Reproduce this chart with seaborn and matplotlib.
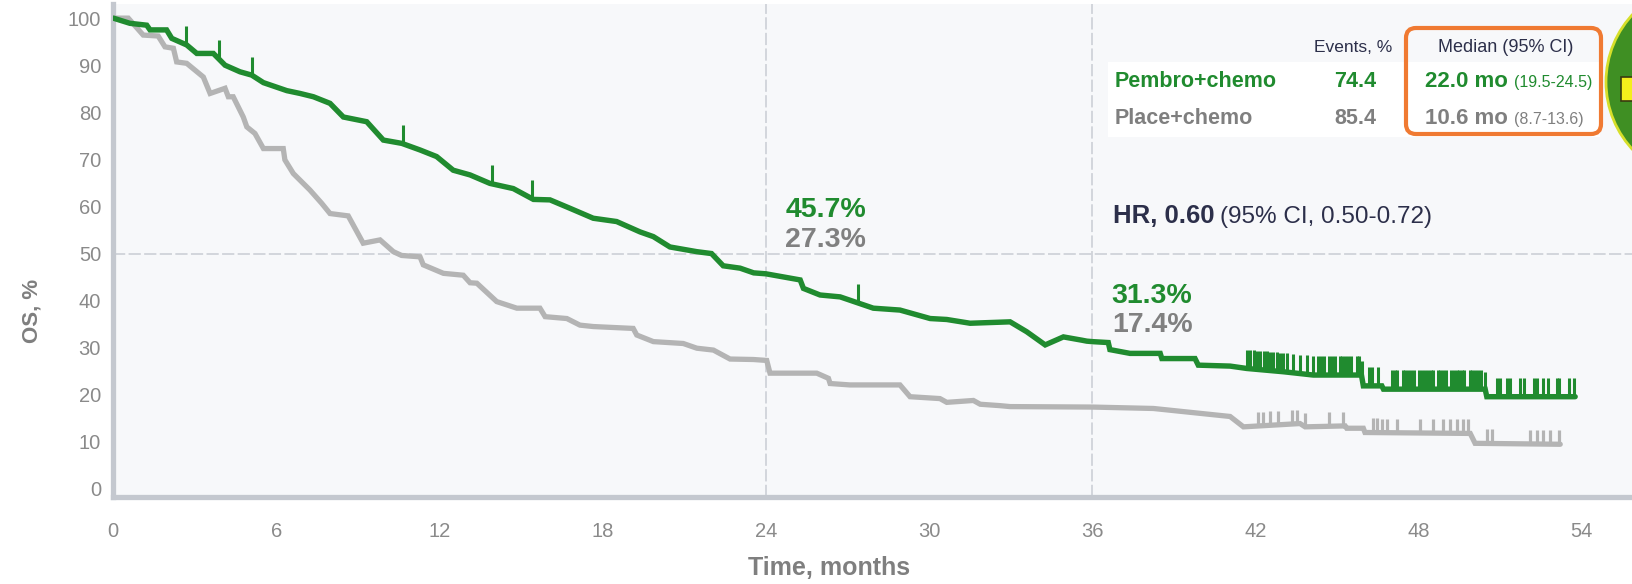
import numpy as np
import pandas as pd
import matplotlib
matplotlib.use("Agg")
import matplotlib.pyplot as plt
from matplotlib import patches
import seaborn as sns

# ---- Kaplan-Meier overall survival: time (months) and OS (%) per arm ----
pembro_time = [0, 0.61, 1.23, 1.35, 1.96, 2.15, 2.70, 3.07, 3.68, 4.11, 4.66, 5.09, 5.52,
               6.38, 6.87, 7.36, 7.97, 8.46, 9.32, 9.93, 10.61, 11.28, 11.89, 12.50, 13.12,
               13.85, 14.71, 15.45, 16.06, 16.80, 17.65, 18.51, 19.37, 19.86, 20.47, 21.46,
               22.00, 22.43, 23.05, 23.55, 24.00, 25.26, 25.38, 25.99, 26.73, 27.95, 28.93,
               30.04, 30.65, 31.51, 32.98, 33.59, 34.27, 34.94, 35.62, 35.80, 36.00, 36.59,
               36.65, 37.39, 38.50, 38.56, 39.78, 39.90, 41.07, 41.68, 43.03, 44.13, 45.90,
               45.97, 46.65, 46.71, 50.45, 50.51, 53.76]
pembro_os = [100, 98.9, 98.5, 97.5, 97.5, 95.7, 94.3, 92.5, 92.5, 90.0, 88.6, 87.9, 86.3,
             84.6, 84.0, 83.3, 81.9, 79.0, 78.0, 74.1, 73.4, 72.0, 70.6, 67.7, 66.7,
             64.9, 63.8, 61.5, 61.4, 59.6, 57.5, 56.8, 54.6, 53.6, 51.4, 50.4,
             50.0, 47.4, 46.9, 45.9, 45.7, 44.4, 42.6, 41.2, 40.8, 38.4, 38.0,
             36.2, 36.0, 35.2, 35.5, 33.4, 30.6, 32.3, 31.6, 31.4, 31.3, 31.1,
             29.6, 28.8, 28.8, 27.7, 27.7, 26.3, 26.1, 25.6, 24.9, 24.2, 24.2,
             21.9, 21.9, 21.2, 21.2, 19.6, 19.6]

placebo_time = [0, 0.55, 1.10, 1.65, 1.90, 2.21, 2.33, 2.70, 3.31, 3.56, 4.11, 4.23, 4.41,
                4.78, 4.91, 5.21, 5.52, 6.25, 6.31, 6.62, 7.23, 7.66, 7.97, 8.64, 9.19,
                9.81, 10.30, 10.60, 11.28, 11.40, 12.14, 12.87, 13.12, 13.37, 14.10, 14.84,
                15.69, 15.88, 16.68, 17.16, 17.65, 19.12, 19.25, 19.86, 20.96, 21.46, 22.07,
                22.68, 23.54, 24.03, 24.15, 25.87, 26.30, 26.36, 27.09, 28.93, 29.30, 30.40,
                30.65, 31.63, 31.88, 32.61, 32.98, 36.00, 37.51, 38.25, 41.07, 41.56, 43.64,
                43.83, 45.30, 45.36, 45.97, 46.03, 49.90, 50.08, 53.21]
placebo_os = [100, 100, 96.4, 96.2, 93.9, 93.6, 90.7, 90.4, 87.5, 84.0, 85.1, 83.3, 83.3,
              79.0, 76.9, 75.5, 72.3, 72.3, 69.9, 67.0, 63.5, 60.7, 58.5, 58.0, 52.2,
              52.9, 50.4, 49.6, 49.3, 47.6, 45.8, 45.4, 43.8, 43.7, 39.8, 38.4,
              38.4, 36.6, 36.2, 34.8, 34.5, 34.1, 32.7, 31.3, 30.9, 29.9, 29.5,
              27.6, 27.5, 27.3, 24.6, 24.6, 23.5, 22.4, 22.1, 22.1, 19.6, 19.2,
              18.4, 18.8, 18.0, 17.7, 17.5, 17.4, 17.2, 17.1, 15.4, 13.2, 13.9,
              13.2, 13.4, 12.9, 12.9, 12.0, 11.8, 9.7, 9.5]

# censoring times (months)
pembro_censor = [2.66, 3.89, 5.11, 10.64, 13.94, 15.41, 27.40,
                 41.70, 41.82, 41.94, 42.06, 42.18, 42.30, 42.42, 42.54, 42.66, 42.78, 42.90, 43.02,
                 43.15, 43.40, 43.64, 43.89, 44.13, 44.32,
                 44.42, 44.52, 44.72, 44.82, 44.92, 45.10, 45.20, 45.30, 45.40, 45.50, 45.72, 45.82, 45.93,
                 46.16, 46.28, 46.52,
                 47.02, 47.14, 47.22, 47.42, 47.52, 47.63, 47.74, 47.84, 48.02, 48.12, 48.23, 48.34,
                 48.44, 48.53, 48.70, 48.80, 48.90, 49.00, 49.20, 49.30, 49.40, 49.50, 49.60, 49.68,
                 49.88, 49.98, 50.08, 50.18, 50.28, 50.46,
                 50.88, 51.00, 51.25, 51.38, 51.74, 51.86, 52.23, 52.36, 52.59, 52.75, 53.09, 53.18,
                 53.55, 53.70]
placebo_censor = [42.11, 42.29, 42.54, 42.85, 43.34, 43.52, 43.83, 44.72, 45.24,
                  46.34, 46.47, 46.65, 46.83, 47.20, 48.06, 48.55, 48.91, 49.16, 49.41,
                  49.65, 49.83, 50.51, 50.69, 52.10, 52.35, 52.59, 52.84, 53.15]

# summary table and landmark estimates
arms = ["Pembro+chemo", "Place+chemo"]
events_pct = [74.4, 85.4]
median_mo = [22.0, 10.6]
median_ci = ["19.5-24.5", "8.7-13.6"]
landmark_months = [24, 36]
pembro_landmark = [45.7, 31.3]
placebo_landmark = [27.3, 17.4]
hr_value = 0.60
hr_ci = "0.50-0.72"

x_ticks = list(range(0, 55, 6))
y_ticks = list(range(0, 101, 10))

GREEN = "#208b2f"
GREY_LINE = "#b4b4b4"
GREY_TEXT = "#808080"
NAVY = "#2c2f4a"
AXIS_GREY = "#c4c8cf"

sns.set_theme(style="white")
plt.rcParams["font.family"] = ["Liberation Sans", "DejaVu Sans"]

W, H = 1632, 584
fig = plt.figure(figsize=(W / 100, H / 100), dpi=100)
fig.patch.set_facecolor("white")
ax = fig.add_axes([113.3 / W, 87 / H, (W - 113.3) / W, (497 - 4) / H])
ax.set_facecolor("#f7f8fa")

# reference lines
dash = dict(color="#c9ccd3", lw=1.1, dashes=(8, 2.2), zorder=1)
ax.axhline(50, **dash)
for m in landmark_months:
    ax.axvline(m, **dash)

# survival curves
df_placebo = pd.DataFrame({"Time": placebo_time, "OS": placebo_os})
df_pembro = pd.DataFrame({"Time": pembro_time, "OS": pembro_os})
sns.lineplot(data=df_placebo, x="Time", y="OS", ax=ax, color=GREY_LINE, lw=3.8,
             estimator=None, sort=False, legend=False, zorder=3)
sns.lineplot(data=df_pembro, x="Time", y="OS", ax=ax, color=GREEN, lw=3.9,
             estimator=None, sort=False, legend=False, zorder=4)
for line in ax.lines[-2:]:
    line.set_solid_joinstyle("miter")

# censor marks
pc = np.array(placebo_censor)
pv = np.interp(pc, placebo_time, placebo_os)
ax.vlines(pc, pv, pv + 3.0, color=GREY_LINE, lw=2.3, zorder=3)
gc = np.array(pembro_censor)
gv = np.interp(gc, pembro_time, pembro_os)
ax.vlines(gc, gv, gv + 4.0, color=GREEN, lw=2.2, zorder=4)

# axes styling
ax.set_xlim(0, 55.85)
ax.set_ylim(-1.7, 103)
ax.set_xticks(x_ticks)
ax.set_yticks(y_ticks)
for s in ["top", "right"]:
    ax.spines[s].set_visible(False)
for s in ["left", "bottom"]:
    ax.spines[s].set_color(AXIS_GREY)
    ax.spines[s].set_linewidth(3.8)
ax.tick_params(axis="both", length=0, labelsize=14.5, labelcolor="#8a8a8a")
ax.tick_params(axis="x", pad=18)
ax.tick_params(axis="y", pad=8.8)
ax.grid(False)

ax.set_xlabel("Time, months", fontsize=18, fontweight="bold", color="#7f7f7f")
ax.xaxis.set_label_coords(0.4716, -0.1205)
ax.set_ylabel("OS, %", fontsize=16, fontweight="bold", color="#7f7f7f")
ax.yaxis.set_label_coords(-0.0463, 0.378)

# landmark estimates
label_rows = {24: (57.8, 51.4), 36: (39.4, 33.3)}
for m, g, p in zip(landmark_months, pembro_landmark, placebo_landmark):
    yg, yp = label_rows[m]
    ax.text(m + 0.72, yg, f"{g:.1f}%", color=GREEN, fontsize=20.5,
            fontweight="bold", va="baseline", ha="left", zorder=5)
    ax.text(m + 0.72, yp, f"{p:.1f}%", color=GREY_TEXT, fontsize=20.5,
            fontweight="bold", va="baseline", ha="left", zorder=5)

# hazard ratio
hr_txt = ax.text(36.75, 56.5, f"HR, {hr_value:.2f}", color=NAVY, fontsize=18.5,
                 fontweight="bold", va="baseline", ha="left", zorder=5)
fig.canvas.draw()
bb = hr_txt.get_window_extent(fig.canvas.get_renderer())
x_after = ax.transData.inverted().transform((bb.x1 + 6, bb.y0))[0]
ax.text(x_after, 56.5, f"(95% CI, {hr_ci})", color=NAVY, fontsize=17.5,
        va="baseline", ha="left", zorder=5)


def fx(x):
    return x / W


def fy(y):
    return 1 - y / H


# summary table
fig.add_artist(patches.Rectangle((11.08, 4.47), 4.92, 0.75, transform=fig.dpi_scale_trans,
                                 fc="white", ec="none", zorder=1))
fig.add_artist(patches.FancyBboxPatch((14.06, 4.50), 1.95, 1.06,
                                      boxstyle="round,pad=0,rounding_size=0.1",
                                      transform=fig.dpi_scale_trans, fc="none",
                                      ec="#f07a32", lw=3, zorder=2))
fig.text(fx(1353), fy(52), "Events, %", ha="center", va="baseline",
         fontsize=12.5, color=NAVY)
fig.text(fx(1506), fy(52), "Median (95% CI)", ha="center", va="baseline",
         fontsize=13, color=NAVY)
row_colors = [GREEN, "#7f7f7f"]
row_base = [87.3, 124]
for name, ev, med, ci, col, yb in zip(arms, events_pct, median_mo, median_ci,
                                       row_colors, row_base):
    fig.text(fx(1115), fy(yb), name, ha="left", va="baseline", fontsize=15.5,
             fontweight="bold", color=col)
    fig.text(fx(1355), fy(yb), f"{ev:.1f}", ha="center", va="baseline",
             fontsize=15.5, fontweight="bold", color=col)
    fig.text(fx(1508), fy(yb), f"{med:.1f} mo", ha="right", va="baseline",
             fontsize=16, fontweight="bold", color=col)
    fig.text(fx(1514), fy(yb), f"({ci})", ha="left", va="baseline",
             fontsize=11.5, color=col)

# corner badge
fig.add_artist(patches.Circle((17.05, 5.02), 0.99, transform=fig.dpi_scale_trans,
                              fc="#3f8f23", ec="#d6df2a", lw=2, zorder=2))
fig.add_artist(patches.Rectangle((16.21, 4.83), 0.4, 0.24, transform=fig.dpi_scale_trans,
                                 fc="#f4ee1c", ec="#3a3a10", lw=1.2, zorder=3))

fig.savefig("out.png", dpi=100, facecolor="white")
